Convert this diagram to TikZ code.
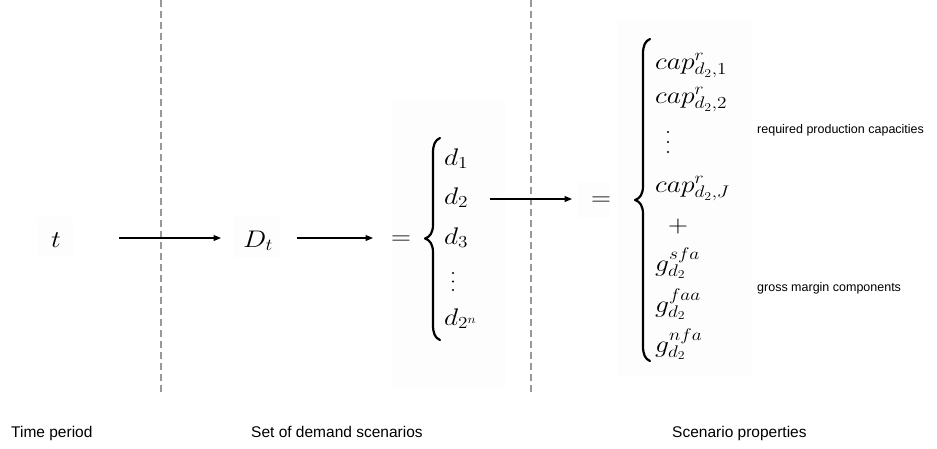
\RequirePackage{fix-cm}
\documentclass[tikz,border=0pt]{standalone}
\usepackage{fontspec}
\usepackage{graphicx}
\newfontfamily\labfont{Liberation Sans}
\usetikzlibrary{arrows.meta}
\newcommand{\mth}[1]{\scalebox{1.15}[1]{$#1$}}
% curly brace: stroke x, top y, centre y, bottom y
\newcommand{\curlybrace}[4]{%
  \draw[bracestyle] ({#1+7},#2) .. controls ({#1+2},{#2+2}) and (#1,{#2+7}) .. (#1,{#2+15})
    -- (#1,{#3-14}) .. controls (#1,{#3-6}) and ({#1-3},{#3-1.5}) .. ({#1-8},#3)
    .. controls ({#1-3},{#3+1.5}) and (#1,{#3+6}) .. (#1,{#3+14})
    -- (#1,{#4-15}) .. controls (#1,{#4-7}) and ({#1+2},{#4-2}) .. ({#1+7},#4);}
\tikzset{
  mathnode/.style={inner sep=0pt, anchor=base west, font=\fontsize{24}{29}\selectfont},
  mathc/.style={inner sep=0pt, anchor=base, font=\fontsize{24}{29}\selectfont},
  lab/.style={inner sep=0pt, anchor=base west, font=\labfont\fontsize{15.5}{18}\selectfont},
  note/.style={inner sep=0pt, anchor=base west, font=\labfont\fontsize{12.5}{15}\selectfont},
  arr/.style={-{Triangle[length=7.5pt,width=6pt]}, line width=1.1pt},
  sepline/.style={dash pattern=on 7pt off 4pt, line width=1.2pt, draw=black!40},
  bracestyle/.style={line width=2.2pt, line cap=round, line join=round},
  vdot/.style={circle, fill=black, inner sep=0pt, minimum size=2.4pt},
  bg/.style={fill=black!0.8, draw=none}
}
\begin{document}
\begin{tikzpicture}[x=1pt,y=-1pt]
\useasboundingbox (0,0) rectangle (937,448);
% faint background panels
\fill[bg] (37,217) rectangle (73,257);
\fill[bg] (233,215) rectangle (280,258);
\fill[bg] (392,100) rectangle (505,388);
\fill[bg] (617,19) rectangle (752,377);
\fill[bg] (577,182) rectangle (610,218);
% separators
\draw[sepline] (161,0) -- (161,392);
\draw[sepline] (531,0) -- (531,392);
% left part
\node[mathnode] (t) at (51,247) {\mth{t}};
\node[mathnode] (Dt) at (243,247) {\mth{D_t}};
\node[mathnode] (eq1) at (391,244) {\mth{=}};
\curlybrace{433}{138}{238.5}{340}
\node[mathnode] (d1) at (444,165) {\mth{d_1}};
\node[mathnode] (d2) at (444,204) {\mth{d_2}};
\node[mathnode] (d3) at (444,244) {\mth{d_3}};
\node[vdot] (v1a) at (453,273) {};
\node[vdot] (v1b) at (453,281.5) {};
\node[vdot] (v1c) at (453,290) {};
\node[mathnode] (d2n) at (444,325) {\mth{d_{2^n}}};
% arrows
\coordinate (a1s) at (119,238);
\coordinate (a1e) at (221,238);
\coordinate (a2s) at (297,238);
\coordinate (a2e) at (373,238);
\coordinate (a3s) at (490,199);
\coordinate (a3e) at (572,199);
\draw[arr] (a1s) -- (a1e);
\draw[arr] (a2s) -- (a2e);
\draw[arr] (a3s) -- (a3e);
% right part
\node[mathnode] (eq2) at (591,205) {\mth{=}};
\curlybrace{643}{39}{200}{361}
\node[mathnode] (c1) at (655,69) {\mth{cap^r_{d_2,1}}};
\node[mathnode] (c2) at (655,103) {\mth{cap^r_{d_2,2}}};
\node[vdot] (v2a) at (668,132) {};
\node[vdot] (v2b) at (668,142) {};
\node[vdot] (v2c) at (668,152) {};
\node[mathnode] (cJ) at (655,192) {\mth{cap^r_{d_2,J}}};
\node[mathc] (plus) at (678,232) {\mth{+}};
\node[mathnode] (g1) at (655,271) {\mth{g^{sfa}_{d_2}}};
\node[mathnode] (g2) at (655,312) {\mth{g^{faa}_{d_2}}};
\node[mathnode] (g3) at (655,352) {\mth{g^{nfa}_{d_2}}};
% notes
\node[note] (n1) at (757,133) {required production capacities};
\node[note] (n2) at (757,291) {gross margin components};
% bottom labels
\node[lab] (l1) at (11,437) {Time period};
\node[lab] (l2) at (251,437) {Set of demand scenarios};
\node[lab] (l3) at (672,437) {Scenario properties};
\end{tikzpicture}
\end{document}
